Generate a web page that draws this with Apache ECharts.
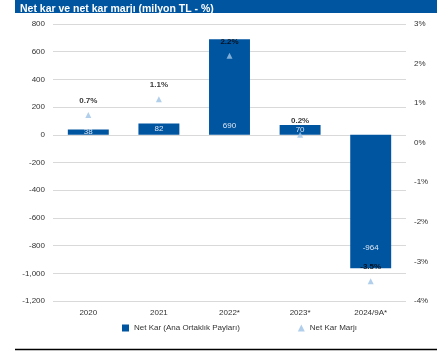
<!DOCTYPE html>
<html><head><meta charset="utf-8">
<script src="https://cdn.jsdelivr.net/npm/echarts@6/dist/echarts.min.js"></script>
<style>html,body{margin:0;padding:0;background:#fff}#c{width:444px;height:351px}</style>
</head><body><div id="c"></div>
<script>
const categories = ['2020', '2021', '2022*', '2023*', '2024/9A*'];
const netKar = [38, 82, 690, 70, -964];
const netKarMarji = [0.7, 1.1, 2.2, 0.2, -3.5];
const seriesNames = ['Net Kar (Ana Ortaklık Payları)', 'Net Kar Marjı'];
const titleText = 'Net kar ve net kar marjı (milyon TL - %)';

const FONT = '"Liberation Sans", Arial, sans-serif';
const chart = echarts.init(document.getElementById('c'));
const barData = netKar.map(v => {
  const small = Math.abs(v) < 100;
  return {
    value: v,
    label: small ? { position: 'inside' } : (v < 0 ? { position: 'insideBottom', distance: 17 } : { position: 'insideBottom', distance: 5 })
  };
});
chart.setOption({
  animation: false,
  title: {
    text: titleText, left: 15, top: -1,
    textStyle: { color: '#fff', fontSize: 10.5, fontWeight: 'bold', fontFamily: FONT }
  },
  graphic: [
    { type: 'rect', z: -1, shape: { x: 15, y: 0, width: 422, height: 13 }, style: { fill: '#0055A0' } },
    { type: 'line', shape: { x1: 15, y1: 349.5, x2: 437, y2: 349.5 }, style: { stroke: '#000', lineWidth: 1.5 } }
  ],
  legend: {
    bottom: 14, left: 117, itemGap: 58, itemWidth: 7, itemHeight: 7,
    textStyle: { fontSize: 8, fontFamily: FONT, color: '#333' },
    data: [
      { name: seriesNames[0], icon: 'rect' },
      { name: seriesNames[1], icon: 'triangle' }
    ]
  },
  grid: { left: 53, right: 38, top: 24, bottom: 50 },
  xAxis: {
    type: 'category', data: categories,
    axisLine: { show: false }, axisTick: { show: false },
    axisLabel: { fontSize: 8, color: '#333', fontFamily: FONT, margin: 8 }
  },
  yAxis: [
    {
      type: 'value', min: -1200, max: 800, interval: 200,
      axisLine: { show: false }, axisTick: { show: false },
      splitLine: { lineStyle: { color: '#D9D9D9', width: 1 } },
      axisLabel: {
        fontSize: 8, color: '#333', fontFamily: FONT, margin: 8,
        formatter: v => v.toLocaleString('en-US')
      }
    },
    {
      type: 'value', min: -4, max: 3, interval: 1, position: 'right',
      axisLine: { show: false }, axisTick: { show: false }, splitLine: { show: false },
      axisLabel: { fontSize: 8, color: '#333', fontFamily: FONT, margin: 8, formatter: v => v + '%' }
    }
  ],
  series: [
    {
      name: seriesNames[0], type: 'bar', data: barData, barWidth: '58%',
      itemStyle: { color: '#0055A0' },
      label: { show: true, color: '#DCE6F2', fontSize: 8, fontFamily: FONT }
    },
    {
      name: seriesNames[1], type: 'scatter', yAxisIndex: 1, data: netKarMarji,
      symbol: 'triangle', symbolSize: 6,
      itemStyle: { color: '#9DC3E6' },
      label: {
        show: true, position: 'top', distance: 7, color: '#000', fontWeight: 'bold',
        fontSize: 8, fontFamily: FONT, formatter: p => p.value.toFixed(1) + '%'
      }
    }
  ]
});
</script></body></html>
